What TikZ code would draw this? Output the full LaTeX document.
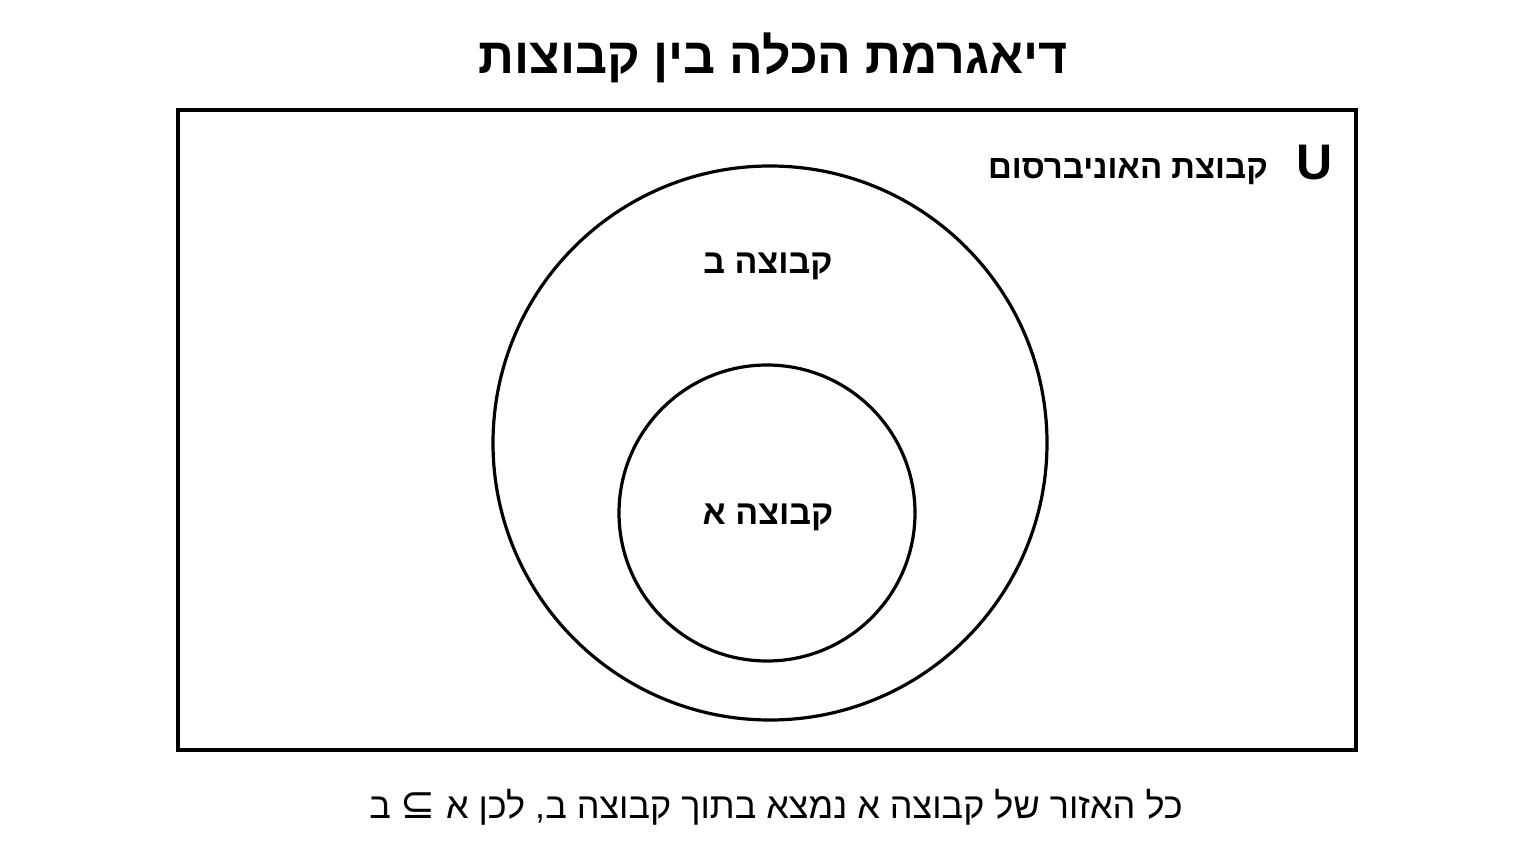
\documentclass[tikz,border=0pt]{standalone}
\usepackage{fontspec}
\setmainfont{Liberation Sans}
\newfontfamily\hebfont[Script=Hebrew]{Liberation Sans}
\newfontfamily\symfont{DejaVu Sans}
\TeXXeTstate=1
\usetikzlibrary{positioning}
\tikzset{
  frame/.style={draw=black, line width=3.2pt},
  setline/.style={draw=black, line width=3.2pt},
  title/.style={font=\hebfont\bfseries\fontsize{50}{58}\selectfont},
  setlabel/.style={font=\hebfont\bfseries\fontsize{34}{40}\selectfont},
  unilabel/.style={font=\bfseries\fontsize{50}{58}\selectfont},
  caption/.style={font=\hebfont\fontsize{36}{42}\selectfont}
}
\newcommand{\heb}[1]{\beginR #1\endR}

\begin{document}
\begin{tikzpicture}[x=1pt,y=-1pt]
    \useasboundingbox (0,0) rectangle (1536,864);
    \node [title] (title) at (773,58) {\heb{דיאגרמת הכלה בין קבוצות}};
    \draw [frame] (178,110) rectangle (1356,750);
    \node [unilabel] (U) at (1315,163) {U};
    \node [setlabel, font=\hebfont\bfseries\fontsize{33}{40}\selectfont, left=22pt of U, yshift=-9pt] (uniset) {\heb{קבוצת האוניברסום}};
    \draw [setline] (770,443) circle (277);
    \draw [setline] (767,513) circle (148);
    \node [setlabel] (setB) at (768,266) {\heb{קבוצה ב}};
    \node [setlabel] (setA) at (768,517) {\heb{קבוצה א}};
    \node [caption] (note) at (776,807) {\heb{כל האזור של קבוצה א נמצא בתוך קבוצה ב, לכן א \beginL{\symfont\fontsize{42}{42}\selectfont ⊆}\endL{} ב}};
\end{tikzpicture}
\end{document}
